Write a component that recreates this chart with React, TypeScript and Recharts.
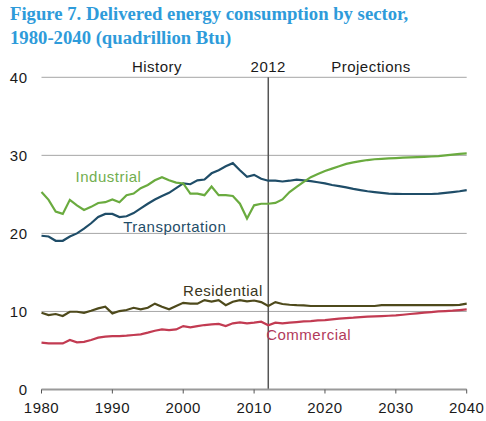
import React from 'react';
import {
  LineChart,
  Line,
  XAxis,
  YAxis,
  CartesianGrid,
  ReferenceLine,
  ReferenceDot,
} from 'recharts';

const years: number[] = [];
for (let y = 1980; y <= 2040; y++) years.push(y);

const industrial = [
  25.3, 24.3, 22.8, 22.5, 24.3, 23.6, 23.0, 23.4, 23.9, 24.0,
  24.35, 24.0, 24.9, 25.1, 25.8, 26.2, 26.8, 27.2, 26.8, 26.5,
  26.4, 25.1, 25.1, 24.9, 26.0, 24.9, 24.9, 24.8, 23.8, 21.9,
  23.6, 23.8, 23.8, 23.9, 24.35, 25.3, 25.97, 26.6, 27.2, 27.6,
  28.0, 28.3, 28.6, 28.9, 29.1, 29.25, 29.4, 29.5, 29.55, 29.6,
  29.64, 29.7, 29.73, 29.77, 29.8, 29.85, 29.9, 30.0, 30.1, 30.2,
  30.25,
];

const transportation = [
  19.7, 19.6, 19.05, 19.05, 19.6, 20.0, 20.6, 21.3, 22.1, 22.5,
  22.5, 22.1, 22.2, 22.6, 23.2, 23.8, 24.35, 24.8, 25.2, 25.8,
  26.4, 26.3, 26.8, 26.9, 27.7, 28.1, 28.6, 29.0, 28.1, 27.25,
  27.5, 27.0, 26.75, 26.75, 26.65, 26.75, 26.9, 26.8, 26.7, 26.55,
  26.4, 26.2, 26.05, 25.9, 25.7, 25.55, 25.4, 25.3, 25.2, 25.1,
  25.07, 25.05, 25.05, 25.05, 25.05, 25.05, 25.1, 25.2, 25.3, 25.4,
  25.55,
];

const residential = [
  9.83, 9.54, 9.67, 9.41, 9.96, 9.96, 9.83, 10.09, 10.39, 10.6,
  9.75, 10.05, 10.18, 10.47, 10.27, 10.47, 11.0, 10.6, 10.27, 10.7,
  11.1, 11.0, 11.0, 11.45, 11.25, 11.45, 10.8, 11.25, 11.45, 11.3,
  11.4, 11.2, 10.7, 11.2, 10.95, 10.86, 10.8, 10.78, 10.7, 10.7,
  10.7, 10.7, 10.7, 10.7, 10.7, 10.7, 10.7, 10.7, 10.8, 10.8,
  10.8, 10.8, 10.8, 10.8, 10.8, 10.8, 10.8, 10.8, 10.8, 10.85,
  11.0,
];

const commercial = [
  6.0, 5.9, 5.9, 5.9, 6.34, 6.04, 6.1, 6.34, 6.64, 6.77,
  6.85, 6.85, 6.9, 6.98, 7.07, 7.28, 7.53, 7.7, 7.6, 7.7,
  8.13, 7.96, 8.13, 8.26, 8.35, 8.4, 8.13, 8.48, 8.6, 8.48,
  8.56, 8.68, 8.22, 8.56, 8.48, 8.56, 8.64, 8.73, 8.77, 8.86,
  8.9, 8.99, 9.07, 9.15, 9.2, 9.28, 9.33, 9.37, 9.41, 9.45,
  9.5, 9.58, 9.67, 9.75, 9.84, 9.92, 10.0, 10.05, 10.1, 10.18,
  10.27,
];

const xTicks = [1980, 1990, 2000, 2010, 2020, 2030, 2040];
const yTicks = [0, 10, 20, 30, 40];

const data = years.map((year, i) => ({
  year,
  industrial: industrial[i],
  transportation: transportation[i],
  residential: residential[i],
  commercial: commercial[i],
}));

const FONT = '"Liberation Sans", Arial, sans-serif';
const FS = 15;
const LS = 0.5;

export default function App() {
  return (
    <div
      style={{
        position: 'absolute',
        left: 0,
        top: 0,
        width: 486,
        height: 421,
        background: '#fff',
      }}
    >
      <div
        style={{
          position: 'absolute',
          left: 10,
          top: 2,
          fontFamily: '"Liberation Serif", "Times New Roman", serif',
          fontWeight: 'bold',
          fontSize: 18.7,
          lineHeight: '24px',
          color: '#2E9BDA',
          whiteSpace: 'nowrap',
        }}
      >
        Figure 7. Delivered energy consumption by sector,
        <br />
        1980-2040 (quadrillion Btu)
      </div>
      <div style={{ position: 'absolute', left: 0, top: 0 }}>
        <LineChart
          width={486}
          height={421}
          data={data}
          margin={{ top: 77.3, right: 19.3, bottom: 1.5, left: 11.5 }}
        >
          <CartesianGrid
            horizontal={true}
            vertical={false}
            stroke="#a6a6a6"
            strokeWidth={1}
          />
          <XAxis
            dataKey="year"
            type="number"
            domain={[1980, 2040]}
            ticks={xTicks}
            interval={0}
            height={30}
            axisLine={{ stroke: '#9a9a9a', strokeWidth: 2 }}
            tickLine={{ stroke: '#555', strokeWidth: 1 }}
            tickSize={4}
            tickMargin={9}
            tick={{ fill: '#1a1a1a', fontSize: FS, fontFamily: FONT, letterSpacing: LS }}
          />
          <YAxis
            type="number"
            domain={[0, 40]}
            ticks={yTicks}
            interval={0}
            width={30}
            axisLine={false}
            tickLine={false}
            tickSize={0}
            tickMargin={14}
            tick={{ fill: '#1a1a1a', fontSize: FS, fontFamily: FONT, letterSpacing: LS }}
          />
          <ReferenceLine
            x={2012}
            stroke="#555"
            strokeWidth={1.5}
            label={{
              value: '2012',
              position: 'top',
              offset: 5,
              fill: '#1a1a1a',
              fontSize: FS,
              fontFamily: FONT,
              letterSpacing: LS,
            }}
          />
          <ReferenceDot
            x={1996.3}
            y={40}
            r={0}
            fill="none"
            stroke="none"
            ifOverflow="visible"
            label={{
              value: 'History',
              position: 'top',
              offset: 5,
              fill: '#1a1a1a',
              fontSize: FS,
              fontFamily: FONT,
              letterSpacing: LS,
            }}
          />
          <ReferenceDot
            x={2026.5}
            y={40}
            r={0}
            fill="none"
            stroke="none"
            ifOverflow="visible"
            label={{
              value: 'Projections',
              position: 'top',
              offset: 5,
              fill: '#1a1a1a',
              fontSize: FS,
              fontFamily: FONT,
              letterSpacing: LS,
            }}
          />
          <Line
            type="linear"
            dataKey="commercial"
            stroke="#C23B52"
            strokeWidth={2.2}
            dot={false}
            isAnimationActive={false}
          />
          <Line
            type="linear"
            dataKey="residential"
            stroke="#4E4A1C"
            strokeWidth={2.2}
            dot={false}
            isAnimationActive={false}
          />
          <Line
            type="linear"
            dataKey="transportation"
            stroke="#1F4D68"
            strokeWidth={2.2}
            dot={false}
            isAnimationActive={false}
          />
          <Line
            type="linear"
            dataKey="industrial"
            stroke="#6AAB3F"
            strokeWidth={2.2}
            dot={false}
            isAnimationActive={false}
          />
          <ReferenceDot
            x={1989.45}
            y={27.25}
            r={0}
            fill="none"
            stroke="none"
            ifOverflow="visible"
            label={{
              value: 'Industrial',
              position: 'center',
              fill: '#72AE4E',
              fontSize: FS,
              fontFamily: FONT,
              letterSpacing: LS,
            }}
          />
          <ReferenceDot
            x={1998.8}
            y={20.85}
            r={0}
            fill="none"
            stroke="none"
            ifOverflow="visible"
            label={{
              value: 'Transportation',
              position: 'center',
              fill: '#1F4D68',
              fontSize: FS,
              fontFamily: FONT,
              letterSpacing: LS,
            }}
          />
          <ReferenceDot
            x={2005.6}
            y={12.65}
            r={0}
            fill="none"
            stroke="none"
            ifOverflow="visible"
            label={{
              value: 'Residential',
              position: 'center',
              fill: '#3a3620',
              fontSize: FS,
              fontFamily: FONT,
              letterSpacing: LS,
            }}
          />
          <ReferenceDot
            x={2017.7}
            y={6.98}
            r={0}
            fill="none"
            stroke="none"
            ifOverflow="visible"
            label={{
              value: 'Commercial',
              position: 'center',
              fill: '#B23A5A',
              fontSize: FS,
              fontFamily: FONT,
              letterSpacing: LS,
            }}
          />
        </LineChart>
      </div>
    </div>
  );
}
